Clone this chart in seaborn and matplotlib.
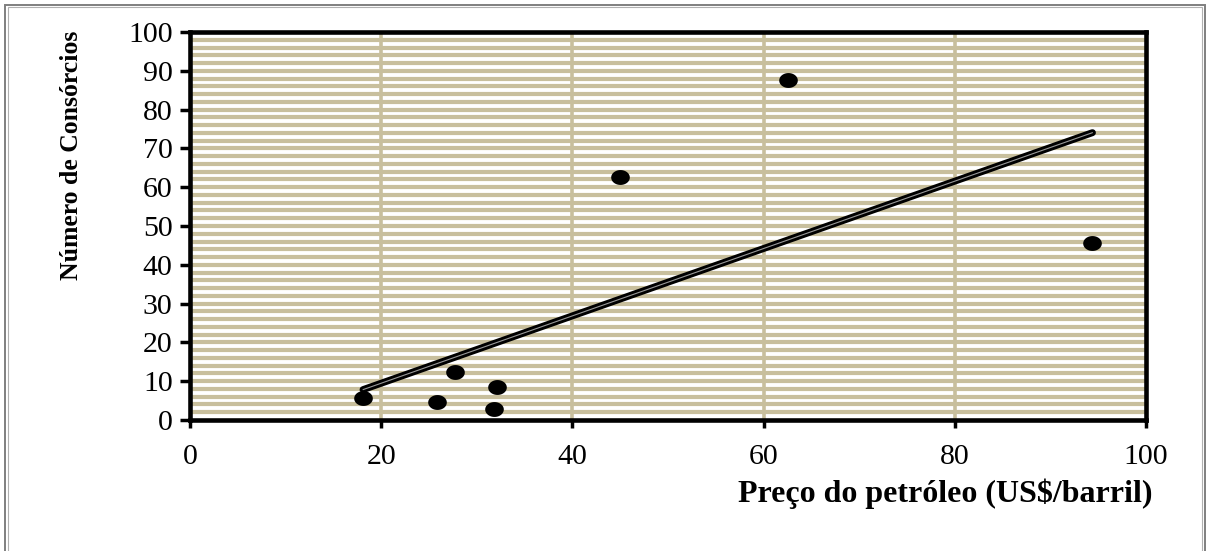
import numpy as np
import pandas as pd
import matplotlib
matplotlib.use("Agg")
import matplotlib.pyplot as plt
import matplotlib.patheffects as pe
from matplotlib.path import Path
from matplotlib.patches import Rectangle
import seaborn as sns

# ---- data ----
preco = [18.1, 25.8, 27.7, 31.8, 32.1, 45.0, 62.5, 94.4]
consorcios = [5.7, 4.6, 12.4, 2.8, 8.5, 62.6, 87.6, 45.6]
x_ticks = [0, 20, 40, 60, 80, 100]
y_ticks = [0, 10, 20, 30, 40, 50, 60, 70, 80, 90, 100]
x_label = "Preço do petróleo (US$/barril)"
y_label = "Número de Consórcios"

df = pd.DataFrame({"preco": preco, "consorcios": consorcios})

sns.set_theme(style="white")
plt.rcParams["font.family"] = ["Liberation Serif", "DejaVu Serif"]
plt.rcParams["text.color"] = "black"
plt.rcParams["axes.labelcolor"] = "black"
plt.rcParams["xtick.color"] = "black"
plt.rcParams["ytick.color"] = "black"

W, H = 1209, 551
fig = plt.figure(figsize=(W / 100, H / 100), dpi=100)
ax = fig.add_axes([190 / W, 1 - 420 / H, (1146 - 190) / W, (420 - 32) / H])
ax.set_xlim(0, 100)
ax.set_ylim(0, 100)

tan = "#C8BF9D"
# striped plot-area background
for yv in np.arange(2, 100, 2):
    ax.axhline(yv, color=tan, lw=3.0, zorder=0.5)
# vertical major gridlines
for xv in x_ticks[1:-1]:
    ax.axvline(xv, color=tan, lw=2.6, zorder=0.6)

# trend line (double line look)
sns.regplot(data=df, x="preco", y="consorcios", ax=ax, scatter=False, ci=None,
            truncate=True,
            line_kws=dict(color="#9a9a9a", lw=0.8, zorder=3,
                          path_effects=[pe.Stroke(linewidth=5, foreground="black"),
                                        pe.Normal()]))

# ellipse marker
t = np.linspace(0, 2 * np.pi, 60)
ell = Path(np.column_stack([np.cos(t), 0.8 * np.sin(t)]), closed=True)
sns.scatterplot(data=df, x="preco", y="consorcios", ax=ax, marker=ell, s=180,
                color="black", edgecolor="black", linewidth=0, zorder=4, legend=False)

ax.set_xticks(x_ticks)
ax.set_yticks(y_ticks)
ax.set_xticklabels([str(v) for v in x_ticks])
ax.set_yticklabels([str(v) for v in y_ticks])
ax.tick_params(axis="y", direction="out", length=7.5, width=2.5, colors="black",
               labelsize=21.5, pad=5, left=True)
ax.tick_params(axis="x", direction="out", length=6, width=2.5, colors="black",
               labelsize=21.5, pad=11, bottom=True)
for s in ax.spines.values():
    s.set_visible(True)
    s.set_color("black")
    s.set_linewidth(3.3)

ax.set_xlabel(x_label, fontsize=23, fontweight="bold", color="black")
ax.set_ylabel(y_label, fontsize=18.5, fontweight="bold", color="black")
ax.xaxis.set_label_coords(0.79, -0.152)
ax.yaxis.set_label_coords(-0.112, 0.683)

# outer frame
fig.add_artist(Rectangle((4.5 / W, -0.02), (W - 9) / W, 1.02 - 4.5 / H,
                         transform=fig.transFigure, fill=False,
                         edgecolor="#7f7f7f", lw=1.4))
fig.add_artist(Rectangle((7.5 / W, -0.02), (W - 15) / W, 1.02 - 7.5 / H,
                         transform=fig.transFigure, fill=False,
                         edgecolor="#b0b0b0", lw=0.8))

fig.savefig("out.png", dpi=100)
